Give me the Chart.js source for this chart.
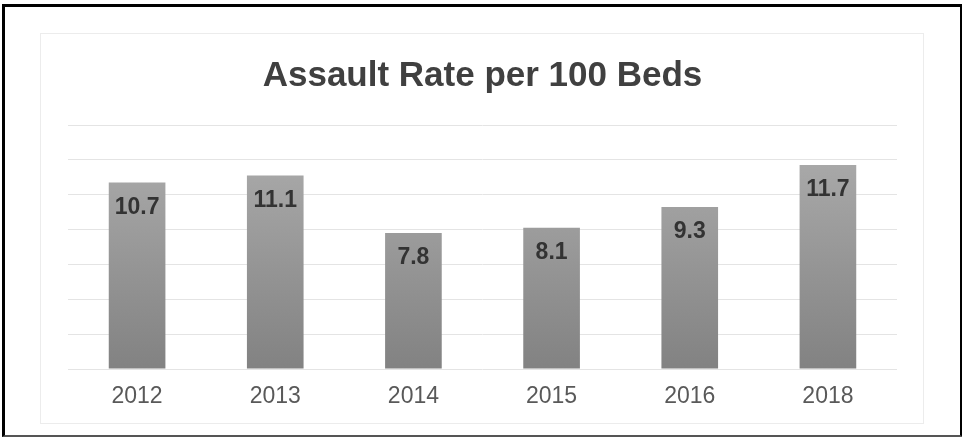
<!DOCTYPE html>
<html>
<head>
<meta charset="utf-8">
<script src="https://cdn.jsdelivr.net/npm/chart.js@4"></script>
<style>
  html, body { margin: 0; padding: 0; background: #fff; }
  body { width: 962px; height: 437px; position: relative; overflow: hidden; }
  #frame {
    position: absolute; left: 2px; top: 4px; width: 955px; height: 428px;
    border-left: 3px solid #000; border-top: 3px solid #000;
    border-right: 3px solid #000; border-bottom: 2px solid #555;
  }
  #box {
    position: absolute; left: 40px; top: 33px; width: 882px; height: 389px;
    border: 1px solid #ececec; background: #fff;
  }
  #box canvas { position: absolute; left: 0; top: 0; }
</style>
</head>
<body>
<div id="frame"></div>
<div id="box"><canvas id="chart" width="882" height="389"></canvas></div>
<script>
// Yearly assault rate per 100 beds
const years = ['2012', '2013', '2014', '2015', '2016', '2018'];
const assaultRates = [10.7, 11.1, 7.8, 8.1, 9.3, 11.7];
const yTicks = [0, 2, 4, 6, 8, 10, 12, 14];

const FONT = "'Liberation Sans', Arial, sans-serif";

// Vertical grey gradient for the bars (lighter at top, darker at base)
function barGradient(ctx) {
  const chart = ctx.chart;
  const area = chart.chartArea;
  if (!area) return '#999999';
  const g = chart.ctx.createLinearGradient(0, area.top + 40, 0, area.bottom);
  g.addColorStop(0, '#a8a8a8');
  g.addColorStop(1, '#828282');
  return g;
}

// Value labels drawn inside each bar, just below its top edge
const valueLabels = {
  id: 'valueLabels',
  afterDatasetsDraw(chart) {
    const c = chart.ctx;
    const meta = chart.getDatasetMeta(0);
    c.save();
    c.font = 'bold 23px ' + FONT;
    c.fillStyle = '#333333';
    c.textAlign = 'center';
    c.textBaseline = 'middle';
    meta.data.forEach((bar, i) => {
      const v = chart.data.datasets[0].data[i];
      c.fillText(v.toFixed(1), bar.x, bar.y + 25);
    });
    c.restore();
  }
};

new Chart(document.getElementById('chart'), {
  type: 'bar',
  data: {
    labels: years,
    datasets: [{
      data: assaultRates,
      backgroundColor: barGradient,
      borderWidth: 0,
      categoryPercentage: 1.0,
      barPercentage: 0.41
    }]
  },
  options: {
    responsive: false,
    animation: false,
    devicePixelRatio: 1,
    layout: { padding: { left: 27, right: 26, top: 0, bottom: 0 } },
    plugins: {
      legend: { display: false },
      tooltip: { enabled: false },
      title: {
        display: true,
        text: 'Assault Rate per 100 Beds',
        color: '#404040',
        font: { family: FONT, size: 35, weight: 'bold', lineHeight: 1.2 },
        padding: { top: 21, bottom: 28 }
      }
    },
    scales: {
      x: {
        grid: { display: false, drawTicks: false },
        border: { display: false },
        afterFit(scale) { scale.height = 54; },
        ticks: {
          color: '#595959',
          padding: 14,
          font: { family: FONT, size: 23 }
        }
      },
      y: {
        min: 0,
        max: 14,
        afterBuildTicks(scale) { scale.ticks = yTicks.map(v => ({ value: v })); },
        grid: { color: '#e4e4e4', lineWidth: 1, drawTicks: false },
        border: { display: false },
        ticks: { display: false }
      }
    }
  },
  plugins: [valueLabels]
});
</script>
</body>
</html>
